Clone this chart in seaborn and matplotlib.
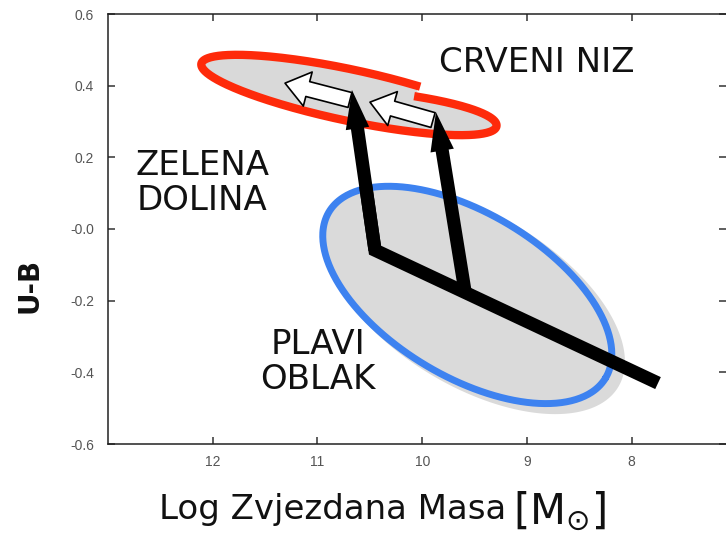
import numpy as np
import matplotlib
matplotlib.use('Agg')
import matplotlib.pyplot as plt
import seaborn as sns
from matplotlib.patches import Rectangle

sns.set_theme(style='white')
plt.rcParams['font.family'] = ['DejaVu Sans']
plt.rcParams['mathtext.fontset'] = 'dejavusans'

'''
Colour - stellar mass diagram: red sequence, green valley, blue cloud
and the evolution tracks between them.
'''

x_ticks = [12, 11, 10, 9, 8]
x_labels = ['12', '11', '10', '9', '8']
y_ticks = [0.6, 0.4, 0.2, 0.0, -0.2, -0.4, -0.6]
y_labels = ['0.6', '0.4', '0.2', '-0.0', '-0.2', '-0.4', '-0.6']

# regions: centre (log mass, U-B), semi axes (in mass units), tilt (deg)
red_centre = (10.70, 0.374)
red_axes = (1.44, 0.245)
red_tilt = -12
# the upper right part of the red outline sits a bit lower
red_step_mass = 10.04
red_step_ub = 0.03
blue_centre = (9.57, -0.184)
blue_axes = (1.54, 0.78)
blue_tilt = -31
grey_centre = (9.50, -0.200)
grey_axes = (1.60, 0.82)
grey_tilt = -31

# black tracks
track_mass = [10.54, 10.451, 7.749]
track_ub = [0.12, -0.059, -0.430]
rise_start = [(10.451, -0.059), (9.59, -0.177)]
rise_end = [(10.671, 0.388), (9.869, 0.326)]

# hollow arrows along the red sequence
drift_start = [(10.69, 0.360), (9.897, 0.304)]
drift_end = [(11.31, 0.407), (10.499, 0.354)]

# labels
label_text = ['CRVENI NIZ', 'ZELENA\nDOLINA', 'PLAVI\nOBLAK']
label_mass = [8.905, 12.10, 10.995]
label_ub = [0.466, 0.128, -0.371]


def ellipse(ax, centre, axes, tilt, n=400):
    '''
    points of a tilted ellipse, tilt taken on screen.
    Also returns sin(t) to know the upper side.
    '''
    bb = ax.get_window_extent()
    x0, x1 = ax.get_xlim()
    y0, y1 = ax.get_ylim()
    r = (bb.height / abs(y1 - y0)) / (bb.width / abs(x1 - x0))
    t = np.linspace(0, 2 * np.pi, n)
    a, b = axes
    p = np.radians(tilt)
    dx = a * np.cos(t) * np.cos(p) - b * np.sin(t) * np.sin(p)
    dy = a * np.cos(t) * np.sin(p) + b * np.sin(t) * np.cos(p)
    return centre[0] - dx, centre[1] + dy / r, np.sin(t)


fig = plt.figure(figsize=(7.26, 5.33), dpi=100)
ax = fig.add_axes([108 / 726, 89 / 533, 618 / 726, 430 / 533])
ax.set_xlim(13, 7.1)
ax.set_ylim(-0.6, 0.6)

# red outline with its step
rx, ry, rs = ellipse(ax, red_centre, red_axes, red_tilt)
tip = rx.min()
w = np.clip((rx - tip) / (red_step_mass - tip), 0, 1)
upper = (rs > 0) & (rx < red_step_mass)
ry = np.where(upper, ry - red_step_ub * w, ry)
cut = np.where(upper[:-1] & ~upper[1:])[0][0] + 1
# start the outline at the step so the only open ends are there
rx_line = np.roll(rx, -cut)
ry_line = np.roll(ry, -cut)

# grey areas
gx, gy, _ = ellipse(ax, grey_centre, grey_axes, grey_tilt)
ax.fill(gx, gy, color='#dadada', lw=0, zorder=1)
ax.fill(rx, ry, color='#d9d9d9', lw=0, zorder=1)

# outlines
bx, by, _ = ellipse(ax, blue_centre, blue_axes, blue_tilt)
sns.lineplot(x=bx, y=by, sort=False, estimator=None, ax=ax,
             color='#3d82f0', lw=5, zorder=1.5)
ax.plot(rx_line, ry_line, color='#fe2a0a', lw=6, zorder=1.5,
        solid_capstyle='projecting')

# white box behind the blue cloud label
ax.add_patch(Rectangle((12.2, -0.58), 2.3, 0.32, color='white',
                       lw=0, zorder=1.8))

# tracks
sns.lineplot(x=track_mass, y=track_ub, sort=False, estimator=None, ax=ax,
             color='black', lw=9.5, zorder=3)
ax.lines[-1].set_solid_joinstyle('miter')
ax.lines[-1].set_solid_capstyle('butt')
for s, e in zip(rise_start, rise_end):
    ax.annotate('', xy=e, xytext=s, zorder=3,
                arrowprops=dict(arrowstyle='simple,head_length=2.8,'
                                'head_width=1.7,tail_width=0.95',
                                fc='black', ec='black', lw=0,
                                mutation_scale=10,
                                shrinkA=0, shrinkB=0))
for s, e in zip(drift_start, drift_end):
    ax.annotate('', xy=e, xytext=s, zorder=3.5,
                arrowprops=dict(arrowstyle='simple,head_length=1.3,'
                                'head_width=1.95,tail_width=0.85',
                                fc='white', ec='black', lw=1.2,
                                mutation_scale=13,
                                shrinkA=0, shrinkB=0))

for t, xm, yu in zip(label_text, label_mass, label_ub):
    ax.text(xm, yu, t, fontsize=24.5, ha='center', va='center',
            linespacing=1.1, color='#111111', zorder=5)

# axes look
ax.set_xticks(x_ticks)
ax.set_xticklabels(x_labels, fontfamily='Liberation Sans', fontsize=10,
                   color='#555555')
ax.set_yticks(y_ticks)
ax.set_yticklabels(y_labels, fontfamily='Liberation Sans', fontsize=10,
                   color='#555555')
ax.tick_params(axis='x', direction='in', top=True, bottom=True,
               length=5, width=1.1, color='#333333', pad=8)
ax.tick_params(axis='y', direction='in', left=True, right=True,
               length=5, width=1.1, color='#333333', pad=10)
for side in ['left', 'top', 'bottom']:
    ax.spines[side].set_color('#222222')
    ax.spines[side].set_linewidth(1.1)
ax.spines['right'].set_visible(False)

ax.set_xlabel('')
ax.set_ylabel('')
fig.text(30 / 726, 1 - 285 / 533, 'U-B', rotation=90, fontsize=20,
         fontweight='bold', ha='center', va='center', color='#111111')
fig.text(333 / 726, 1 - 510 / 533, 'Log Zvjezdana Masa',
         fontsize=24.5, ha='center', va='center', color='#111111')
fig.text(513 / 726, 1 - 511 / 533, r'$[\mathrm{M}_{\odot}]$',
         fontsize=30, ha='left', va='center', color='#111111')

fig.savefig('out.png', dpi=100)
